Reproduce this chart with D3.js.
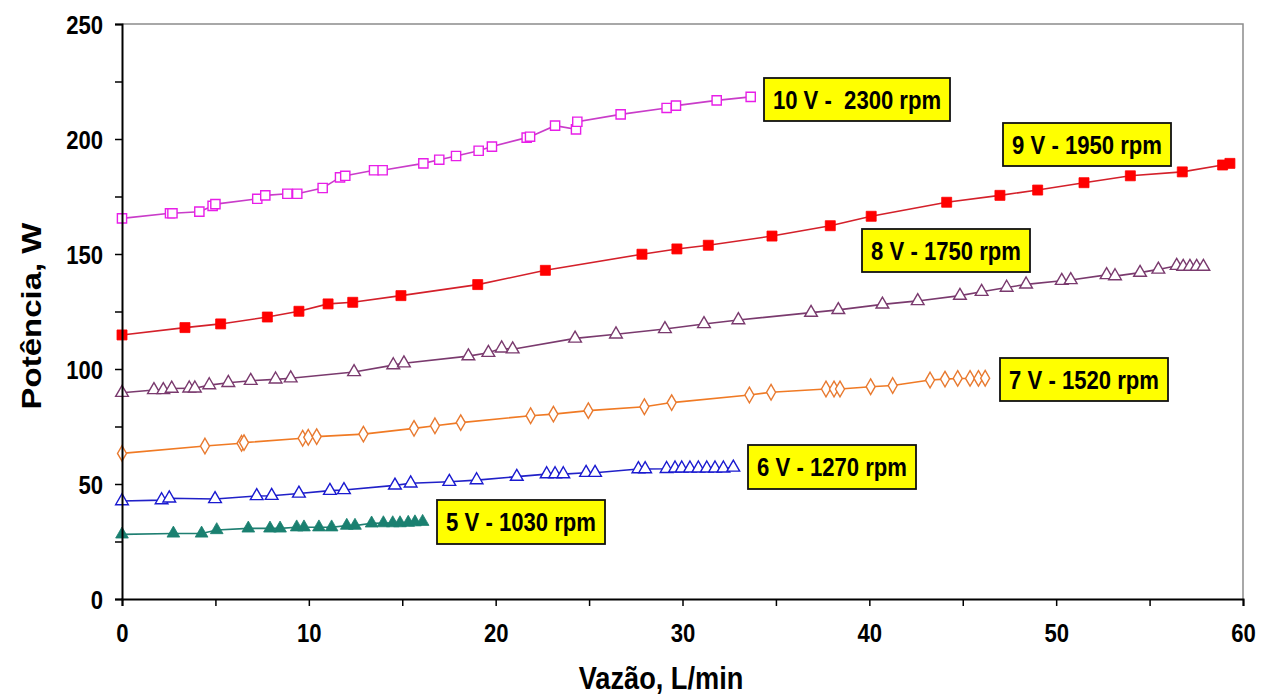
<!DOCTYPE html>
<html>
<head>
<meta charset="utf-8">
<script src="https://cdn.jsdelivr.net/npm/d3@7"></script>
<style>
  html, body { margin: 0; padding: 0; background: #fff; }
  svg { display: block; }
  text { font-family: "Liberation Sans", Arial, sans-serif; font-weight: bold; }
</style>
</head>
<body>
<svg id="chart" width="1268" height="695"></svg>
<script>
// Vazão (L/min) and Potência (W) for each motor supply voltage
const flow10V = [0, 2.57, 2.7, 4.14, 4.85, 5.0, 7.24, 7.67, 8.85, 9.38, 10.74, 11.67, 11.95, 13.49, 13.95, 16.13, 16.98, 17.88, 19.09, 19.8, 21.66, 21.84, 23.18, 24.3, 24.37, 26.69, 29.15, 29.65, 31.83, 33.65];
const power10V = [165.5, 167.7, 167.7, 168.4, 170.9, 171.7, 174, 175.5, 176.2, 176.2, 178.7, 183.3, 184, 186.4, 186.4, 189.4, 191, 192.6, 194.9, 196.7, 200.6, 201, 205.8, 204.2, 207.5, 210.7, 213.5, 214.5, 216.8, 218.3];

const flow9V = [0, 3.37, 5.28, 7.78, 9.47, 11.03, 12.35, 14.93, 19.04, 22.66, 27.83, 29.7, 31.38, 34.79, 37.91, 40.1, 44.14, 46.99, 49.01, 51.49, 53.97, 56.75, 58.91, 59.3];
const power9V = [114.8, 118, 119.6, 122.6, 125.1, 128.3, 129, 131.9, 136.7, 142.9, 149.9, 152.2, 153.8, 157.8, 162.3, 166.4, 172.5, 175.5, 177.8, 181, 184, 185.7, 188.7, 189.4];

const flow8V = [0, 1.71, 2.21, 2.66, 3.6, 3.9, 4.67, 5.69, 6.89, 8.22, 9.03, 12.42, 14.52, 15.09, 18.54, 19.61, 20.32, 20.91, 24.25, 26.44, 29.06, 31.15, 32.99, 36.88, 38.34, 40.7, 42.59, 44.85, 46.01, 47.35, 48.39, 50.3, 50.78, 52.7, 53.15, 54.49, 55.47, 56.45, 56.8, 57.16, 57.52, 57.88];
const power8V = [89.7, 90.9, 90.9, 91.5, 91.6, 91.6, 93, 94, 94.9, 95.5, 96, 98.7, 101.7, 102.5, 105.6, 107.1, 109, 108.6, 113.3, 115.1, 117.4, 119.6, 121.3, 124.5, 125.7, 128.1, 129.6, 131.9, 133.6, 135.4, 136.8, 138.4, 138.7, 140.9, 140.4, 141.9, 143.3, 144.9, 144.5, 144.5, 144.5, 144.5];

const flow7V = [0, 4.44, 6.4, 6.53, 9.67, 9.97, 10.42, 12.92, 15.63, 16.75, 18.13, 21.87, 23.09, 24.96, 27.96, 29.42, 33.58, 34.74, 37.68, 38.11, 38.43, 40.07, 41.25, 43.25, 44.05, 44.73, 45.39, 45.84, 46.2];
const power7V = [63.3, 66.5, 67.7, 68, 69.9, 70.3, 70.6, 71.7, 74.2, 75.3, 76.7, 79.7, 80.4, 81.9, 83.6, 85.4, 88.7, 89.9, 91.3, 91.3, 91.3, 92.3, 92.8, 95.2, 95.6, 95.9, 95.9, 95.9, 96];

const flow6V = [0, 2.12, 2.53, 4.98, 7.21, 8.01, 9.47, 11.13, 11.88, 14.61, 15.45, 17.52, 18.98, 21.13, 22.73, 23.18, 23.62, 24.84, 25.32, 27.64, 28, 29.15, 29.6, 29.96, 30.4, 30.85, 31.3, 31.74, 32.19, 32.72];
const power6V = [42.6, 43, 43.8, 43.5, 44.8, 44.9, 45.9, 47.1, 47.4, 49.4, 50.3, 51, 51.7, 53.2, 54.3, 54.3, 54.3, 54.9, 54.9, 56.5, 56.5, 56.6, 56.8, 56.8, 56.8, 56.8, 56.8, 56.8, 56.8, 57.2];

const flow5V = [0, 2.75, 4.26, 5.07, 6.76, 7.92, 8.46, 9.35, 9.74, 10.54, 11.22, 12.03, 12.47, 13.36, 13.99, 14.49, 14.88, 15.32, 15.68, 16.09];
const power5V = [28.1, 28.5, 28.5, 30, 30.7, 30.7, 30.7, 31.2, 31.2, 31.2, 31.2, 31.9, 31.9, 32.9, 33, 33, 33, 33.2, 33.4, 33.6];

const seriesNames = ["10 V -  2300 rpm", "9 V - 1950 rpm", "8 V - 1750 rpm", "7 V - 1520 rpm", "6 V - 1270 rpm", "5 V - 1030 rpm"];

const xTicks = [0, 10, 20, 30, 40, 50, 60];
const yTicks = [0, 50, 100, 150, 200, 250];
const xTitle = "Vazão, L/min";
const yTitle = "Potência, W";

// Drawing setup
const svg = d3.select("#chart");
const plot = { left: 122, right: 1243, top: 24, bottom: 599 };
const narrow = 0.85; // horizontal squeeze applied to all lettering

const x = d3.scaleLinear().domain([0, 60]).range([plot.left, plot.right]);
const y = d3.scaleLinear().domain([0, 250]).range([plot.bottom, plot.top]);

// Plot frame (top and right edges)
svg.append("path")
  .attr("d", `M${plot.left},${plot.top}H${plot.right}V${plot.bottom}`)
  .attr("fill", "none").attr("stroke", "#8c8c8c").attr("stroke-width", 1.5);

// Series styling
const styles = [
  { flow: flow10V, power: power10V, line: "#c93cc9", mark: "#e81ee8", shape: d3.symbolSquare, size: 85, filled: false,
    label: { x: 764, y: 78, w: 186, h: 43 } },
  { flow: flow9V, power: power9V, line: "#d4202a", mark: "#ff0000", shape: d3.symbolSquare, size: 100, filled: true,
    label: { x: 1003, y: 123, w: 168, h: 43 } },
  { flow: flow8V, power: power8V, line: "#7a3a6e", mark: "#7a3a6e", shape: d3.symbolTriangle, size: 70, filled: false,
    label: { x: 862, y: 229, w: 168, h: 43 } },
  { flow: flow7V, power: power7V, line: "#f07a24", mark: "#e87a30", shape: d3.symbolDiamond, size: 70, filled: false,
    label: { x: 1000, y: 358, w: 168, h: 43 } },
  { flow: flow6V, power: power6V, line: "#2020c8", mark: "#1a1ad0", shape: d3.symbolTriangle, size: 70, filled: false,
    label: { x: 748, y: 445, w: 168, h: 44 } },
  { flow: flow5V, power: power5V, line: "#1f7f72", mark: "#1a8070", shape: d3.symbolTriangle, size: 70, filled: true,
    label: { x: 437, y: 500, w: 168, h: 44 } }
];

const line = d3.line().x(d => x(d[0])).y(d => y(d[1]));

styles.forEach((s, i) => {
  const pts = s.flow.map((f, k) => [f, s.power[k]]);
  const g = svg.append("g");
  g.append("path")
    .attr("d", line(pts))
    .attr("fill", "none").attr("stroke", s.line).attr("stroke-width", 1.6);
  g.selectAll("path.mark").data(pts).join("path")
    .attr("class", "mark")
    .attr("transform", d => `translate(${x(d[0])},${y(d[1])})`)
    .attr("d", d3.symbol().type(s.shape).size(s.size))
    .attr("fill", s.filled ? s.mark : "#fff")
    .attr("stroke", s.mark)
    .attr("stroke-width", s.filled ? 0.8 : 1.4);

  // Series label box
  const b = s.label;
  const lg = svg.append("g");
  lg.append("rect")
    .attr("x", b.x).attr("y", b.y).attr("width", b.w).attr("height", b.h)
    .attr("fill", "#ffff00").attr("stroke", "#111").attr("stroke-width", 1.8);
  lg.append("text")
    .attr("transform", `translate(${b.x + b.w / 2},${b.y + b.h / 2 + 9}) scale(${narrow},1)`)
    .attr("text-anchor", "middle")
    .attr("font-size", 26)
    .attr("fill", "#000")
    .style("white-space", "pre")
    .text(seriesNames[i]);
});

// Axes
const yAxis = d3.axisLeft(y).tickValues(d3.range(0, 251, 25)).tickSize(7)
  .tickFormat(d => yTicks.includes(d) ? d : "");
const gy = svg.append("g").attr("transform", `translate(${plot.left},0)`).call(yAxis);
gy.select(".domain").attr("stroke", "#000").attr("stroke-width", 2);
gy.selectAll(".tick line").attr("stroke", "#000").attr("stroke-width", 1.5);
gy.selectAll(".tick text").attr("font-size", 26).attr("x", -19 / narrow).attr("dy", "0.35em")
  .attr("transform", `scale(${narrow},1)`)
  .attr("fill", "#000").style("font-family", "'Liberation Sans', Arial, sans-serif").style("font-weight", "bold");

const xAxis = d3.axisBottom(x).tickValues(d3.range(0, 61, 5)).tickSize(7)
  .tickFormat(d => xTicks.includes(d) ? d : "");
const gx = svg.append("g").attr("transform", `translate(0,${plot.bottom})`).call(xAxis);
gx.select(".domain").attr("stroke", "#000").attr("stroke-width", 2);
gx.selectAll(".tick line").attr("stroke", "#000").attr("stroke-width", 1.5);
gx.selectAll(".tick text").attr("font-size", 26).attr("y", 25).attr("dy", "0.71em")
  .attr("transform", `scale(${narrow},1)`)
  .attr("fill", "#000").style("font-family", "'Liberation Sans', Arial, sans-serif").style("font-weight", "bold");

// Axis titles
svg.append("text")
  .attr("transform", `translate(661,689) scale(${narrow},1)`)
  .attr("text-anchor", "middle").attr("font-size", 32).attr("fill", "#000")
  .text(xTitle);
svg.append("text")
  .attr("transform", `translate(41,316) rotate(-90) scale(1,${narrow})`)
  .attr("text-anchor", "middle").attr("font-size", 33).attr("fill", "#000")
  .text(yTitle);
</script>
</body>
</html>
